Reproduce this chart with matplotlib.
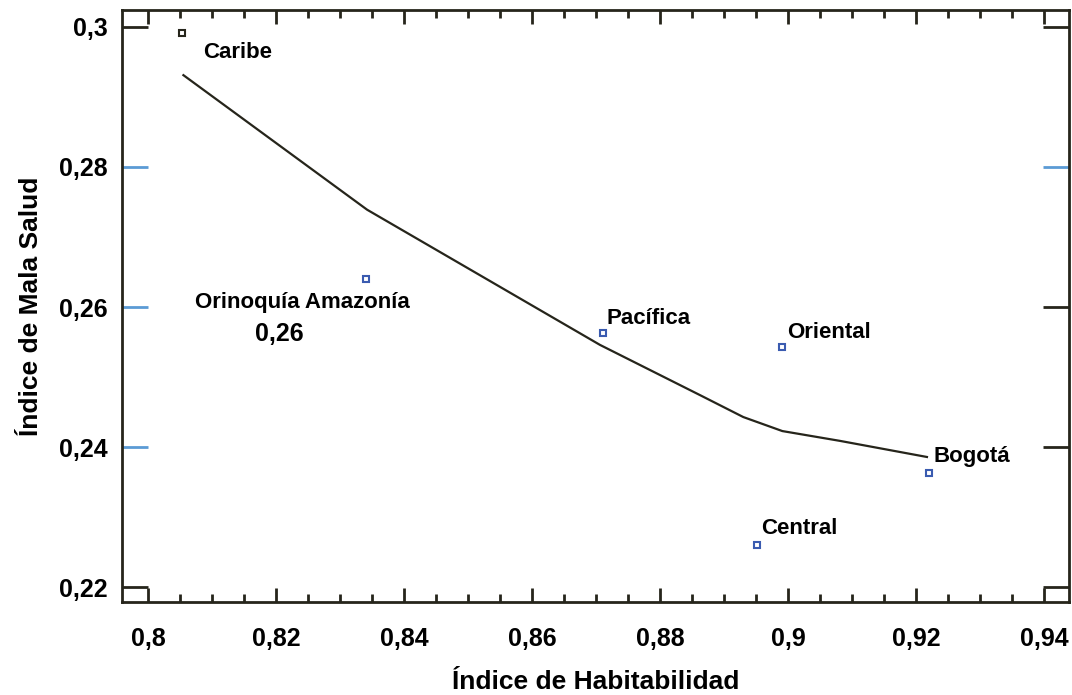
import numpy as np
import matplotlib
matplotlib.use('Agg')
import matplotlib.pyplot as plt
from matplotlib.ticker import MultipleLocator, FuncFormatter

# regiones (puntos)
regiones = ['Caribe', 'Orinoquía Amazonía', 'Pacífica', 'Oriental', 'Central', 'Bogotá']
habitabilidad = [0.8052, 0.8341, 0.8711, 0.8991, 0.8952, 0.9220]
mala_salud = [0.2991, 0.2640, 0.2563, 0.2543, 0.2261, 0.2363]

# curva de ajuste
curva_x = [0.8055, 0.8342, 0.8706, 0.8863, 0.8930, 0.8991, 0.9081, 0.9217]
curva_y = [0.2931, 0.2739, 0.2546, 0.2474, 0.2443, 0.2423, 0.2409, 0.2386]

# label anchor (left, vertical center) in data units
etiquetas_pos = {
    'Caribe': (0.8086, 0.2964),
    'Orinoquía Amazonía': (0.8073, 0.2606),
    'Pacífica': (0.8716, 0.2584),
    'Oriental': (0.8998, 0.2564),
    'Central': (0.8958, 0.2284),
    'Bogotá': (0.9227, 0.2386),
}

dark = '#26251b'
blue_mk = '#3a5bb0'
blue_tk = '#5b9bd5'

plt.rcParams['font.family'] = ['Liberation Sans', 'DejaVu Sans']
plt.rcParams['font.weight'] = 'bold'

fig = plt.figure(figsize=(10.72, 6.95), dpi=100)
ax = fig.add_axes([0.1138, 0.1338, 0.9972 - 0.1138, 0.9856 - 0.1338])

ax.plot(curva_x, curva_y, color=dark, lw=1.6)

for i, r in enumerate(regiones):
    ec = dark if r == 'Caribe' else blue_mk
    ax.plot(habitabilidad[i], mala_salud[i], 's', ms=5, mfc='white', mec=ec, mew=1.5)
    tx, ty = etiquetas_pos[r]
    ax.text(tx, ty, r, fontsize=16, fontweight='bold', va='center', ha='left', color='black')

ax.text(0.8167, 0.2561, '0,26', fontsize=18, fontweight='bold', va='center', ha='left')

ax.set_xlim(0.7959, 0.9439)
ax.set_ylim(0.2179, 0.3024)

ax.xaxis.set_major_locator(MultipleLocator(0.02))
ax.xaxis.set_minor_locator(MultipleLocator(0.005))
ax.yaxis.set_major_locator(MultipleLocator(0.02))

fmt = FuncFormatter(lambda v, p: ('%g' % round(v, 3)).replace('.', ','))
ax.xaxis.set_major_formatter(fmt)
ax.yaxis.set_major_formatter(fmt)

ax.tick_params(axis='x', which='major', direction='in', length=10, width=2, color=dark,
               top=True, labelsize=18, pad=18)
ax.tick_params(axis='x', which='minor', direction='in', length=6, width=2, color=dark, top=True)
ax.tick_params(axis='y', which='major', direction='in', length=19, width=2, color=dark,
               right=True, labelsize=18, pad=10)

ylocs = ax.yaxis.get_majorticklocs()
yticks = ax.yaxis.get_major_ticks(len(ylocs))
for v, t in zip(ylocs, yticks):
    v = round(v, 3)
    if v in (0.24, 0.26, 0.28):
        t.tick1line.set_markeredgecolor(blue_tk)
    if v == 0.28:
        t.tick2line.set_markeredgecolor(blue_tk)

for s in ax.spines.values():
    s.set_color(dark)
    s.set_linewidth(2)

ax.set_xlabel('Índice de Habitabilidad', fontsize=19, fontweight='bold', labelpad=14)
ax.set_ylabel('Índice de Mala Salud', fontsize=19, fontweight='bold', labelpad=12)

plt.savefig('out.png', dpi=100)
